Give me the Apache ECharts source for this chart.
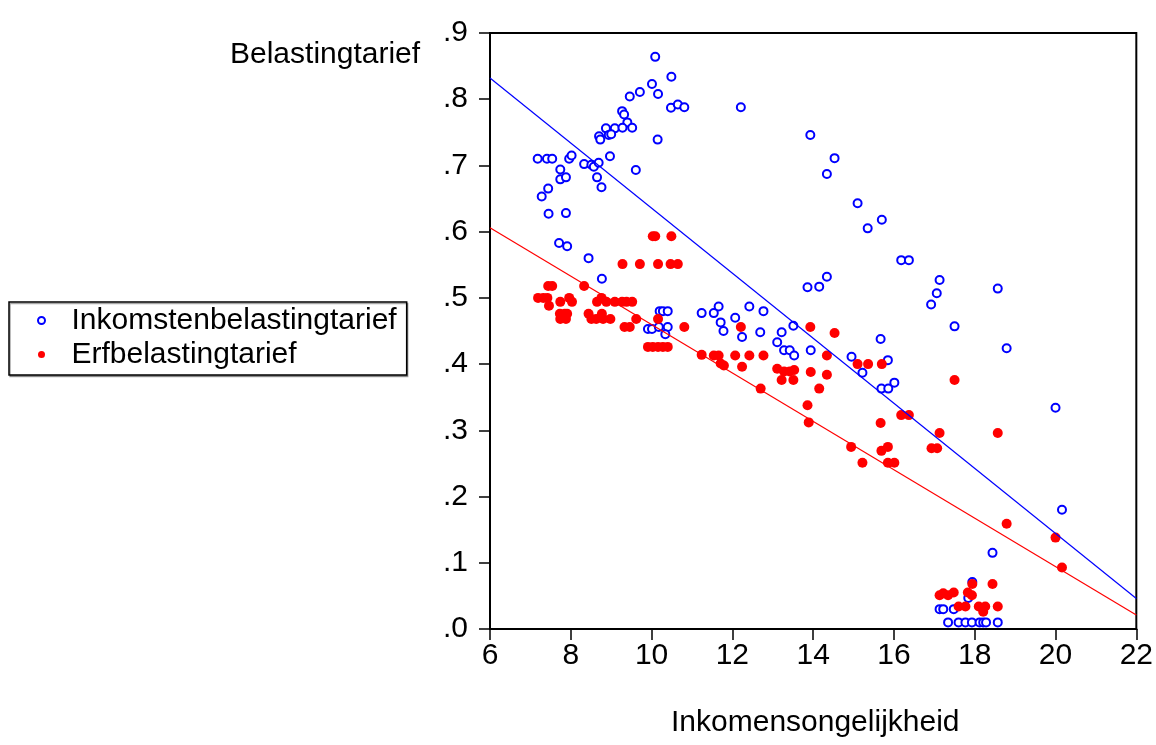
<!DOCTYPE html>
<html>
<head>
<meta charset="utf-8">
<title>Belastingtarief en inkomensongelijkheid</title>
<script src="https://cdn.jsdelivr.net/npm/echarts@6/dist/echarts.min.js"></script>
<style>
  html, body { margin: 0; padding: 0; background: #fff; }
  #chart { width: 1156px; height: 745px; }
</style>
</head>
<body>
<div id="chart"></div>
<script>
// Axis ranges and tick spacing
const xTicks = { min: 6, max: 22, interval: 2 };
const yTicks = { min: 0, max: 0.9, interval: 0.1 };

const seriesNames = ['Inkomstenbelastingtarief', 'Erfbelastingtarief'];
const xAxisTitle = 'Inkomensongelijkheid';
const yAxisTitle = 'Belastingtarief';

// [inkomensongelijkheid, inkomstenbelastingtarief]
const inkomstenData = [
  [10.09,0.864],[10.49,0.834],[10.01,0.823],[9.71,0.811],[9.46,0.804],[10.16,0.808],
  [10.48,0.787],[10.65,0.792],[10.81,0.788],[9.27,0.782],[9.32,0.777],[9.40,0.765],
  [8.87,0.756],[9.09,0.756],[9.28,0.757],[9.52,0.757],[8.94,0.746],[9.00,0.747],
  [8.70,0.744],[8.73,0.739],[10.15,0.739],[8.97,0.714],[7.18,0.710],[7.41,0.710],
  [7.54,0.710],[7.96,0.710],[8.02,0.715],[8.33,0.702],[8.51,0.701],[8.57,0.698],
  [8.69,0.704],[7.74,0.694],[8.65,0.682],[7.74,0.679],[7.88,0.682],[9.61,0.693],
  [8.76,0.667],[7.44,0.665],[7.28,0.653],[7.45,0.627],[7.88,0.628],
  [7.71,0.583],[7.91,0.578],[8.44,0.560],[8.77,0.529],[10.20,0.480],[10.28,0.480],
  [10.40,0.480],[11.24,0.477],[9.91,0.453],[10.01,0.453],[10.18,0.456],[10.40,0.456],
  [10.34,0.445],
  [12.21,0.788],[13.93,0.746],[14.53,0.711],[14.34,0.687],[15.10,0.643],[15.70,0.618],
  [15.35,0.605],[16.18,0.557],[16.37,0.557],[14.34,0.532],[17.13,0.527],[17.06,0.507],
  [16.92,0.490],[18.57,0.514],[17.50,0.457],[18.79,0.424],[15.67,0.438],[14.95,0.411],
  [15.85,0.406],[15.22,0.387],[15.69,0.363],[15.86,0.363],[16.01,0.372],[20.00,0.334],
  [13.86,0.516],[14.15,0.517],[11.54,0.477],[11.66,0.487],[11.71,0.463],[11.78,0.450],
  [12.07,0.470],[12.42,0.487],[12.77,0.480],[12.24,0.441],[12.69,0.448],[13.22,0.448],
  [13.11,0.433],[13.51,0.458],[13.28,0.421],[13.42,0.421],[13.53,0.413],[13.94,0.421],
  [20.16,0.180],[18.44,0.115],[17.94,0.071],[17.84,0.047],[17.13,0.030],[17.22,0.030],
  [17.48,0.030],[17.34,0.010],[17.60,0.010],[17.77,0.010],[17.93,0.010],[18.12,0.010],
  [18.21,0.010],[18.28,0.010],[18.57,0.010]
];

// [inkomensongelijkheid, erfbelastingtarief]
const erfData = [
  [10.03,0.593],[10.09,0.593],[10.49,0.593],[9.28,0.551],[9.71,0.551],[10.16,0.551],
  [10.47,0.551],[10.65,0.551],[7.44,0.518],[7.54,0.518],[8.33,0.518],[7.19,0.500],
  [7.32,0.500],[7.42,0.500],[7.74,0.494],[7.46,0.488],[7.96,0.500],[8.03,0.494],
  [8.76,0.500],[8.65,0.494],[8.88,0.494],[9.09,0.494],[9.27,0.494],[9.38,0.494],
  [9.52,0.494],[7.73,0.476],[7.85,0.476],[7.91,0.476],[7.74,0.468],[7.88,0.468],
  [8.44,0.476],[8.51,0.468],[8.63,0.468],[8.77,0.476],[8.80,0.468],[8.98,0.468],
  [9.62,0.468],[9.33,0.456],[9.46,0.456],[10.16,0.468],[10.81,0.456],[9.91,0.426],
  [10.03,0.426],[10.16,0.426],[10.28,0.426],[10.40,0.426],[11.24,0.414],
  [15.10,0.400],[15.36,0.400],[15.70,0.400],[17.50,0.376],[16.18,0.323],[16.37,0.323],
  [15.67,0.311],
  [12.21,0.456],[13.93,0.456],[14.53,0.447],[11.54,0.413],[11.66,0.413],[11.71,0.401],
  [11.79,0.398],[12.07,0.413],[12.42,0.413],[12.77,0.413],[12.24,0.396],[13.11,0.393],
  [13.28,0.389],[13.42,0.389],[13.53,0.391],[13.22,0.376],[13.51,0.376],[13.94,0.388],
  [14.34,0.413],[14.34,0.384],[14.15,0.363],[12.70,0.363],[13.86,0.338],[13.89,0.312],
  [14.94,0.275],[15.69,0.269],[15.85,0.275],[17.13,0.296],[16.93,0.273],[17.07,0.273],
  [15.22,0.251],[15.85,0.251],[16.01,0.251],[18.57,0.296],[18.79,0.159],[20.00,0.138],
  [20.16,0.093],[17.94,0.068],[18.44,0.068],[17.13,0.051],[17.22,0.054],[17.34,0.051],
  [17.48,0.055],[17.83,0.055],[17.93,0.051],[17.60,0.034],[17.77,0.034],[18.10,0.034],
  [18.26,0.034],[18.21,0.026],[18.57,0.034]
];

// Least-squares fit lines, end points at the axis limits
const inkomstenFit = [[6, 0.832], [22, 0.046]];
const erfFit = [[6, 0.606], [22, 0.021]];

const FONT = '"Liberation Sans", Arial, sans-serif';
const BLUE = '#0000ff';
const RED = '#ff0000';

const chart = echarts.init(document.getElementById('chart'), null, { renderer: 'canvas' });

chart.setOption({
  backgroundColor: '#ffffff',
  animation: false,
  textStyle: { fontFamily: FONT, color: '#000' },
  grid: {
    left: 490, right: 18, top: 33, bottom: 116,
    show: true, borderColor: '#000', borderWidth: 2, backgroundColor: 'transparent'
  },
  xAxis: {
    type: 'value',
    min: xTicks.min, max: xTicks.max, interval: xTicks.interval,
    axisLine: { show: true, onZero: false, lineStyle: { color: '#000', width: 2 } },
    axisTick: { show: true, inside: false, length: 11, lineStyle: { color: '#000', width: 1.5 } },
    axisLabel: { fontSize: 30, fontFamily: FONT, color: '#000', margin: 12 },
    splitLine: { show: false }
  },
  yAxis: {
    type: 'value',
    min: yTicks.min, max: yTicks.max, interval: yTicks.interval,
    axisLine: { show: true, onZero: false, lineStyle: { color: '#000', width: 2 } },
    axisTick: { show: true, inside: false, length: 11, lineStyle: { color: '#000', width: 1.5 } },
    axisLabel: {
      fontSize: 30, fontFamily: FONT, color: '#000', margin: 22,
      formatter: v => v.toFixed(1).replace(/^0/, '')
    },
    splitLine: { show: false }
  },
  legend: {
    orient: 'vertical',
    left: 9, top: 302,
    padding: [3, 10, 5, 28],
    itemWidth: 50, itemHeight: 7, itemGap: 3,
    borderColor: '#000', borderWidth: 1.5,
    backgroundColor: '#fff',
    shadowColor: 'rgba(0,0,0,0.35)', shadowOffsetX: 1, shadowOffsetY: 1.5, shadowBlur: 0,
    textStyle: { fontSize: 30, fontFamily: FONT, color: '#000', lineHeight: 31 },
    data: [
      { name: seriesNames[0], icon: 'emptyCircle', itemStyle: { color: BLUE, borderColor: BLUE, borderWidth: 1.5, opacity: 1 } },
      { name: seriesNames[1], icon: 'circle', itemStyle: { color: RED, opacity: 1 } }
    ]
  },
  graphic: [
    {
      type: 'text', left: 230, top: 40,
      style: { text: yAxisTitle, font: '30px ' + FONT, fill: '#000' }
    },
    {
      type: 'text', left: 671, top: 708,
      style: { text: xAxisTitle, font: '30px ' + FONT, fill: '#000' }
    }
  ],
  series: [
    {
      name: seriesNames[0],
      type: 'scatter',
      symbol: 'emptyCircle',
      symbolSize: 8,
      itemStyle: { color: BLUE, borderColor: BLUE, borderWidth: 2, opacity: 1 },
      data: inkomstenData,
      z: 3
    },
    {
      name: seriesNames[1],
      type: 'scatter',
      symbol: 'circle',
      symbolSize: 10,
      itemStyle: { color: RED, opacity: 1 },
      data: erfData,
      z: 4
    },
    {
      name: 'fitInkomsten',
      type: 'line',
      data: inkomstenFit,
      showSymbol: false,
      symbol: 'none',
      lineStyle: { color: BLUE, width: 1.2 },
      silent: true,
      z: 5
    },
    {
      name: 'fitErf',
      type: 'line',
      data: erfFit,
      showSymbol: false,
      symbol: 'none',
      lineStyle: { color: RED, width: 1.2 },
      silent: true,
      z: 5
    }
  ]
});
</script>
</body>
</html>
